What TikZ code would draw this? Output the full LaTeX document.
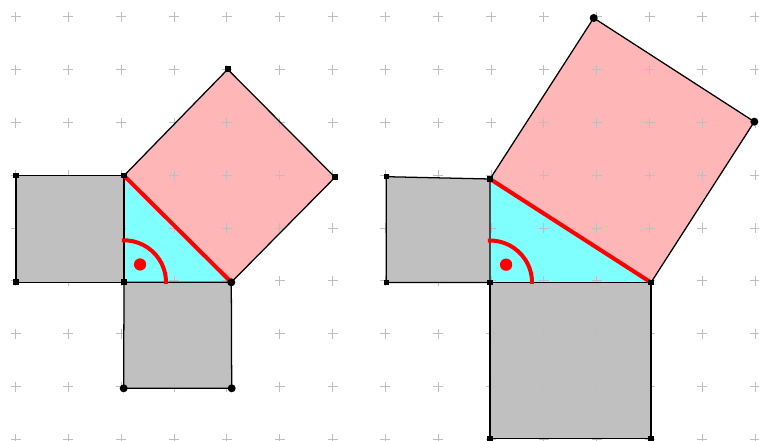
\documentclass[tikz,border=0pt]{standalone}
\definecolor{sqgray}{RGB}{192,192,192}
\definecolor{tricyan}{RGB}{128,255,255}
\definecolor{hpink}{RGB}{255,182,182}
\definecolor{gridgray}{RGB}{190,190,190}
\begin{document}
\begin{tikzpicture}[x=0.75pt,y=-0.75pt,
  edge/.style={draw=black, line width=0.95pt, line join=miter},
  hyp/.style={draw=red, line width=3pt},
  anglearc/.style={draw=red, line width=3pt},
  gridmark/.style={draw=gridgray, line width=0.75pt}]
\useasboundingbox (0,0) rectangle (759,441);
% ---------- left figure points ----------
\coordinate (a1) at (16,175.7);
\coordinate (aA) at (124,175.7);
\coordinate (aV) at (124,282.3);
\coordinate (a4) at (16,282.3);
\coordinate (aD) at (231.3,282.3);
\coordinate (aB1) at (231.7,388.3);
\coordinate (aB2) at (123.7,388.3);
\coordinate (aP1) at (227.7,69.3);
\coordinate (aP2) at (335,177.3);
% ---------- right figure points ----------
\coordinate (b1) at (386.3,176.7);
\coordinate (bA) at (490,179);
\coordinate (bV) at (490,282.5);
\coordinate (b4) at (386.3,282.5);
\coordinate (bD) at (651,282.5);
\coordinate (bB1) at (651,438.3);
\coordinate (bB2) at (490,438.3);
\coordinate (bP1) at (593.7,18);
\coordinate (bP2) at (754.3,121.7);
% ---------- fills ----------
\foreach \p in {a,b}{
  \fill[sqgray] (\p1) -- (\p A) -- (\p V) -- (\p 4) -- cycle;
  \fill[sqgray] (\p V) -- (\p D) -- (\p B1) -- (\p B2) -- cycle;
  \fill[tricyan] (\p A) -- (\p V) -- (\p D) -- cycle;
  \fill[hpink] (\p A) -- (\p P1) -- (\p P2) -- (\p D) -- cycle;
}
% ---------- grid crosses ----------
\foreach \i in {0,...,14}{
  \foreach \j in {0,...,8}{
    \draw[gridmark] ({15.5+52.84*\i-5},{17+52.8*\j}) -- ++(10,0);
    \draw[gridmark] ({15.5+52.84*\i},{17+52.8*\j-5}) -- ++(0,10);
  }
}
% ---------- edges ----------
\foreach \p in {a,b}{
  \draw[edge] (\p1) -- (\p A) -- (\p V) -- (\p 4) -- cycle;
  \draw[edge] (\p V) -- (\p D) -- (\p B1) -- (\p B2) -- cycle;
  \draw[edge] (\p A) -- (\p P1) -- (\p P2) -- (\p D);
  \draw[hyp] (\p A) -- (\p D);
  \draw[anglearc] (\p V) ++(93:31.5pt) arc[start angle=93, end angle=-2, radius=31.5pt];
  \fill[red] (\p V) ++(48:18pt) circle[radius=4.6pt];
}
% ---------- point markers ----------
\foreach \q in {a1,aA,aV,a4,aP1,aP2,b1,bA,bV,b4,bD,bB1,bB2}{
  \fill[black] (\q) ++(-2.8,-2.8) rectangle ++(5.6,5.6);
}
\foreach \q in {aD,aB1,aB2,bP1,bP2}{
  \fill[black] (\q) circle[radius=3pt];
}
\end{tikzpicture}
\end{document}
